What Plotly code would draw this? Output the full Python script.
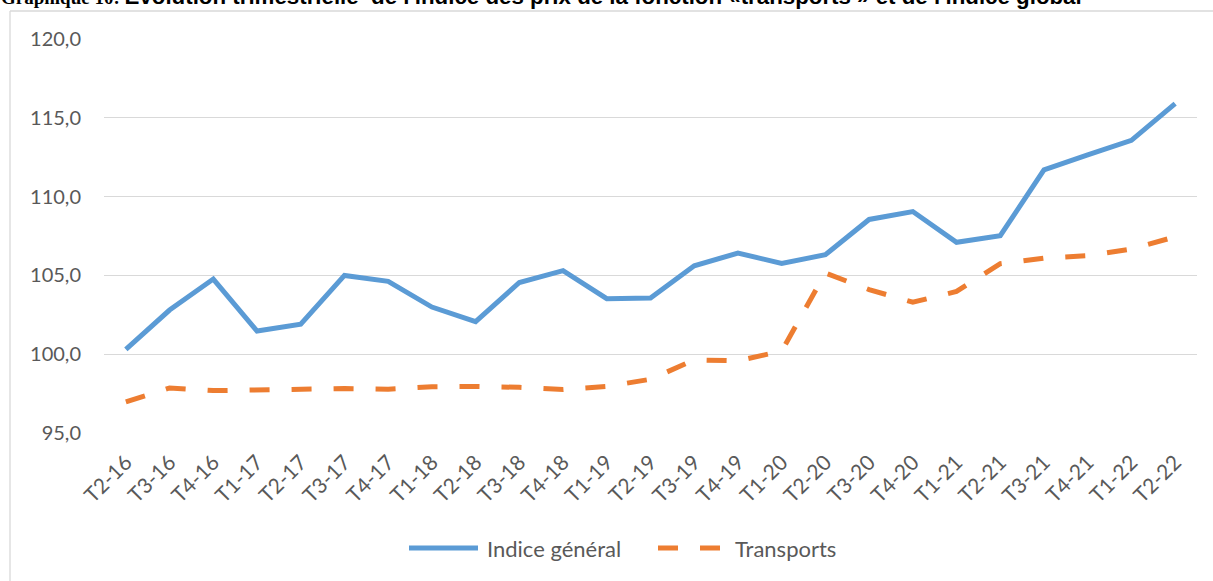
import plotly.graph_objects as go

categories = ["T2-16","T3-16","T4-16","T1-17","T2-17","T3-17","T4-17","T1-18","T2-18","T3-18",
              "T4-18","T1-19","T2-19","T3-19","T4-19","T1-20","T2-20","T3-20","T4-20","T1-21",
              "T2-21","T3-21","T4-21","T1-22","T2-22"]
indice_general = [100.3, 102.8, 104.77, 101.47, 101.9, 105.0, 104.62, 102.99, 102.07, 104.55,
                  105.3, 103.52, 103.56, 105.61, 106.42, 105.76, 106.31, 108.55, 109.05, 107.1,
                  107.52, 111.7, 112.65, 113.57, 115.9]
transports = [96.97, 97.86, 97.69, 97.73, 97.73, 97.82, 97.78, 97.93, 97.95, 97.9,
              97.76, 97.95, 98.41, 99.64, 99.58, 100.2, 105.15, 104.1, 103.3, 103.98,
              105.74, 106.1, 106.25, 106.67, 107.45]
y_ticks = [95, 100, 105, 110, 115, 120]

W, H = 1213, 581
L, R, T, B = 104, 16, 39, 148
PW, PH = W - L - R, H - T - B

def px(x):
    return (x - L) / PW

def py(y):
    return (H - B - y) / PH

BLUE = "#5B9BD5"
ORANGE = "#ED7D31"
GRID = "#D9D9D9"
TXT = "#595959"
FONT = "Lato"

fig = go.Figure()
fig.add_trace(go.Scatter(x=categories, y=indice_general, mode="lines", name="Indice général",
                         line=dict(color=BLUE, width=5)))
fig.add_trace(go.Scatter(x=categories, y=transports, mode="lines", name="Transports",
                         line=dict(color=ORANGE, width=5, dash="20px,22px")))

shapes = [
    # chart frame
    dict(type="line", xref="paper", yref="paper", x0=px(10), x1=px(W + 20), y0=py(11), y1=py(11),
         line=dict(color=GRID, width=1.3)),
    dict(type="line", xref="paper", yref="paper", x0=px(10), x1=px(10), y0=py(11), y1=py(H + 20),
         line=dict(color=GRID, width=1.3)),
    # legend samples
    dict(type="line", xref="paper", yref="paper", x0=px(409), x1=px(478), y0=py(548), y1=py(548),
         line=dict(color=BLUE, width=5)),
    dict(type="line", xref="paper", yref="paper", x0=px(658), x1=px(721), y0=py(548), y1=py(548),
         line=dict(color=ORANGE, width=5, dash="20px,22px")),
]

annotations = [
    dict(xref="paper", yref="paper", x=px(0), y=py(10.5), xanchor="left", yanchor="bottom",
         showarrow=False, borderpad=0,
         text="<b><span style=\"font-family:'Liberation Serif'; font-size:19px\">Graphique 10: </span>"
              "Evolution trimestrielle  de l'indice des prix de la fonction «transports » et de l'indice global</b>",
         font=dict(family="Liberation Sans", size=22.3, color="#000000")),
    dict(xref="paper", yref="paper", x=px(485), y=py(548), xanchor="left", yanchor="middle",
         showarrow=False, text="Indice général", font=dict(family=FONT, size=22, color=TXT)),
    dict(xref="paper", yref="paper", x=px(733), y=py(548), xanchor="left", yanchor="middle",
         showarrow=False, text="Transports", font=dict(family=FONT, size=22, color=TXT)),
]

fig.update_layout(
    width=W, height=H,
    margin=dict(l=L, r=R, t=T, b=B),
    paper_bgcolor="white", plot_bgcolor="white",
    showlegend=False,
    separators=", ",
    shapes=shapes,
    annotations=annotations,
    font=dict(family=FONT, size=20, color=TXT),
)
fig.update_xaxes(type="category", range=[-0.5, len(categories) - 0.5], showgrid=False,
                 showline=False, zeroline=False, ticks="", tickangle=-45,
                 ticklabelstandoff=12,
                 tickfont=dict(family=FONT, size=21, color=TXT))
fig.update_yaxes(range=[95, 120], tickvals=y_ticks, tickformat=".1f", showgrid=True,
                 gridcolor=GRID, gridwidth=1.3, zeroline=False, showline=False, ticks="",
                 ticklabelstandoff=22, tickfont=dict(family=FONT, size=20, color=TXT))

fig.write_html("out.html", config={"displayModeBar": False},
               post_script="document.body.style.margin='0';document.body.style.overflow='hidden';")
